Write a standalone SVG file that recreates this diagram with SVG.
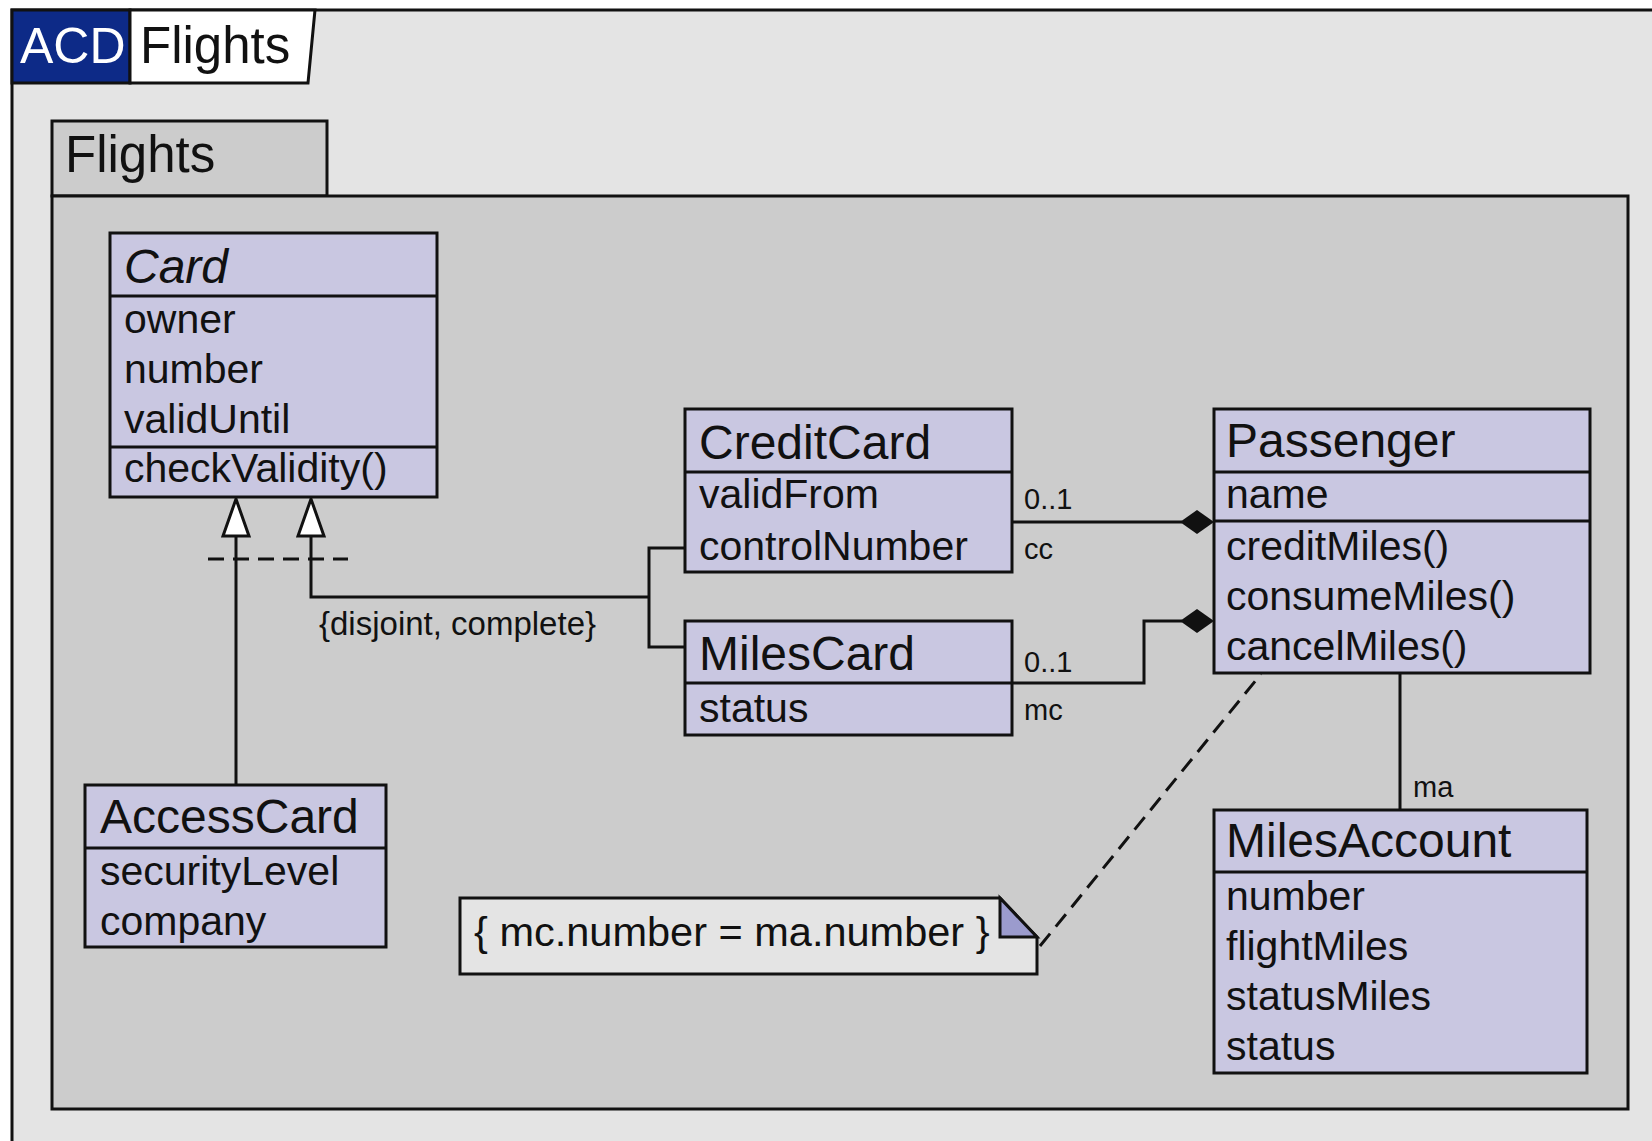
<svg xmlns="http://www.w3.org/2000/svg" width="1652" height="1141" viewBox="0 0 1652 1141">
<style>
  text { font-family: "Liberation Sans", Arial, sans-serif; fill: #111; }
  .cls { fill: #c9c7e1; stroke: #111; stroke-width: 3; }
  .div { stroke: #111; stroke-width: 3; }
  .title { font-size: 48px; }
  .attr { font-size: 41px; }
  .lbl { font-size: 29px; }
  .conn { fill: none; stroke: #111; stroke-width: 3; }
  .dash { fill: none; stroke: #111; stroke-width: 3; stroke-dasharray: 16 9; }
  .gen { fill: #fff; stroke: #111; stroke-width: 3; stroke-linejoin: miter; }
  .dia { fill: #111; stroke: none; }
</style>
<rect x="0" y="0" width="1652" height="1141" fill="#ffffff"/>
<g id="frame">
  <rect x="12" y="10" width="1700" height="1200" fill="#e4e4e4" stroke="#111" stroke-width="3"/>
  <rect x="12" y="10" width="118" height="73" fill="#0d2a87" stroke="#111" stroke-width="3"/>
  <polygon points="130,10 315,10 308,83 130,83" fill="#ffffff" stroke="#111" stroke-width="3"/>
  <text x="20" y="63" font-size="50" style="fill:#ffffff">ACD</text>
  <text x="140" y="63" font-size="51">Flights</text>
</g>
<g id="package">
  <rect x="52" y="121" width="275" height="75" fill="#cccccc" stroke="#111" stroke-width="3"/>
  <rect x="52" y="196" width="1576" height="913" fill="#cccccc" stroke="#111" stroke-width="3"/>
  <text x="65" y="172" font-size="51">Flights</text>
</g>
<g id="connectors">
  <line class="conn" x1="236" y1="536" x2="236" y2="785"/>
  <polygon class="gen" points="236,499 223,536 249,536"/>
  <path class="conn" d="M311,536 V597 H649 M685,548 H649 V647 H685"/>
  <polygon class="gen" points="311,499 298,536 324,536"/>
  <line class="dash" x1="208" y1="559" x2="348" y2="559"/>
  <text x="319" y="635" style="font-size:33px">{disjoint, complete}</text>
  <path class="conn" d="M1012,522 H1182"/>
  <polygon class="dia" points="1180,522 1197,510 1214,522 1197,534"/>
  <path class="conn" d="M1012,683 H1144 V621 H1182"/>
  <polygon class="dia" points="1180,621 1197,609 1214,621 1197,633"/>
  <text class="lbl" x="1024" y="509">0..1</text>
  <text class="lbl" x="1024" y="559">cc</text>
  <text class="lbl" x="1024" y="672">0..1</text>
  <text class="lbl" x="1024" y="720">mc</text>
  <line class="conn" x1="1400" y1="673" x2="1400" y2="810"/>
  <text class="lbl" x="1413" y="797">ma</text>
  <line class="dash" x1="1040" y1="946" x2="1261" y2="674"/>
</g>
<g id="Card">
  <rect class="cls" x="110" y="233" width="327" height="264"/>
  <line class="div" x1="110" y1="296" x2="437" y2="296"/>
  <line class="div" x1="110" y1="447" x2="437" y2="447"/>
  <text class="title" x="124" y="283" font-style="italic">Card</text>
  <text class="attr" x="124" y="333">owner</text>
  <text class="attr" x="124" y="383">number</text>
  <text class="attr" x="124" y="433">validUntil</text>
  <text class="attr" x="124" y="482">checkValidity()</text>
</g>
<g id="CreditCard">
  <rect class="cls" x="685" y="409" width="327" height="163"/>
  <line class="div" x1="685" y1="472" x2="1012" y2="472"/>
  <text class="title" x="699" y="459">CreditCard</text>
  <text class="attr" x="699" y="508">validFrom</text>
  <text class="attr" x="699" y="560">controlNumber</text>
</g>
<g id="MilesCard">
  <rect class="cls" x="685" y="621" width="327" height="114"/>
  <line class="div" x1="685" y1="683" x2="1012" y2="683"/>
  <text class="title" x="699" y="670">MilesCard</text>
  <text class="attr" x="699" y="722">status</text>
</g>
<g id="Passenger">
  <rect class="cls" x="1214" y="409" width="376" height="264"/>
  <line class="div" x1="1214" y1="472" x2="1590" y2="472"/>
  <line class="div" x1="1214" y1="521" x2="1590" y2="521"/>
  <text class="title" x="1226" y="457">Passenger</text>
  <text class="attr" x="1226" y="508">name</text>
  <text class="attr" x="1226" y="560">creditMiles()</text>
  <text class="attr" x="1226" y="610">consumeMiles()</text>
  <text class="attr" x="1226" y="660">cancelMiles()</text>
</g>
<g id="MilesAccount">
  <rect class="cls" x="1214" y="810" width="373" height="263"/>
  <line class="div" x1="1214" y1="872" x2="1587" y2="872"/>
  <text class="title" x="1226" y="857">MilesAccount</text>
  <text class="attr" x="1226" y="910">number</text>
  <text class="attr" x="1226" y="960">flightMiles</text>
  <text class="attr" x="1226" y="1010">statusMiles</text>
  <text class="attr" x="1226" y="1060">status</text>
</g>
<g id="AccessCard">
  <rect class="cls" x="85" y="785" width="301" height="162"/>
  <line class="div" x1="85" y1="848" x2="386" y2="848"/>
  <text class="title" x="100" y="833">AccessCard</text>
  <text class="attr" x="100" y="885">securityLevel</text>
  <text class="attr" x="100" y="935">company</text>
</g>
<g id="note">
  <polygon points="460,898 1000,898 1037,937 1037,974 460,974" fill="#e4e4e4" stroke="#111" stroke-width="3"/>
  <polygon points="1000,898 1037,937 1000,937" fill="#9b9bcd" stroke="#111" stroke-width="3" stroke-linejoin="miter"/>
  <text x="474" y="946" style="font-size:41.5px">{ mc.number = ma.number }</text>
</g>
</svg>
